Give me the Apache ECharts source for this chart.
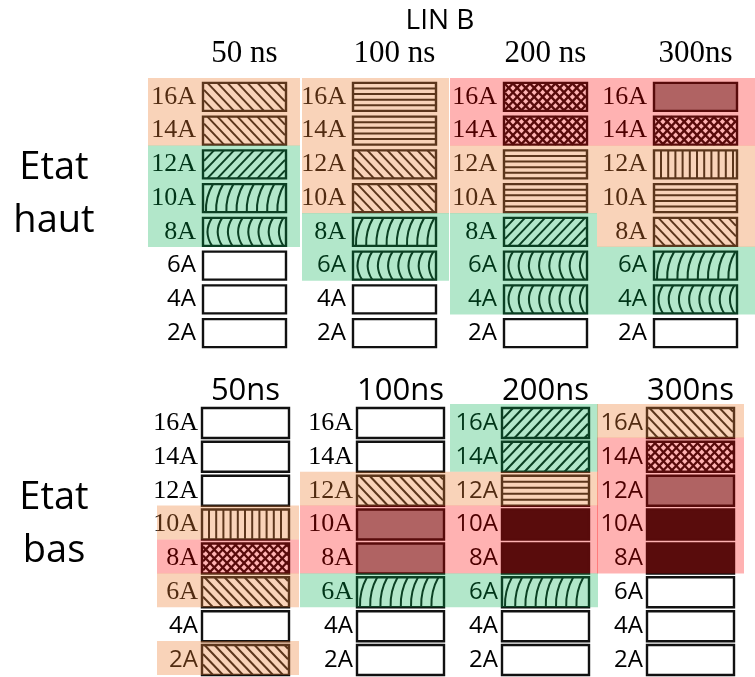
<!DOCTYPE html>
<html><head><meta charset="utf-8">
<script src="https://cdn.jsdelivr.net/npm/echarts@6/dist/echarts.min.js"></script>
<style>html,body{margin:0;padding:0;background:#fff}#c{width:755px;height:677px}</style>
</head><body><div id="c"></div>
<script>
// ---------------- DATA ----------------
const currents = ['16A','14A','12A','10A','8A','6A','4A','2A'];
const topDurations = ['50 ns','100 ns','200 ns','300ns'];
const bottomDurations = ['50ns','100ns','200ns','300ns'];
// fill pattern of each cell, per duration column, rows 16A..2A
const topPatterns = [
  ['bdiag','bdiag','fdiag','wave','arc','none','none','none'],
  ['horiz','horiz','bdiag','bdiag','wave','arc','none','none'],
  ['cross','cross','horiz','horiz','fdiag','arc','arc','none'],
  ['gray','cross','vert','horiz','bdiag','wave','arc','none']
];
const bottomPatterns = [
  ['none','none','none','vert','cross','bdiag','none','bdiag'],
  ['none','none','bdiag','gray','gray','wave','none','none'],
  ['fdiag','fdiag','horiz','black','black','wave','none','none'],
  ['bdiag','cross','gray','black','black','none','none','none']
];
// highlighted zones: [first row, last row, level]
const topZones = [
  [[0,1,'orange'],[2,4,'green']],
  [[0,3,'orange'],[4,5,'green']],
  [[0,1,'red'],[2,3,'orange'],[4,6,'green']],
  [[0,1,'red'],[2,4,'orange'],[5,6,'green']]
];
const bottomZones = [
  [[3,3,'orange'],[4,4,'red'],[5,5,'orange'],[7,7,'orange']],
  [[2,2,'orange'],[3,4,'red'],[5,5,'green']],
  [[0,1,'green'],[2,2,'orange'],[3,4,'red'],[5,5,'green']],
  [[0,0,'orange'],[1,4,'red']]
];

// ---------------- LAYOUT / STYLE ----------------
const zoneColors = {orange:'rgba(237,125,49,0.34)', green:'rgba(0,176,80,0.30)', red:'rgba(255,0,0,0.30)'};
const SERIF = '"Liberation Serif", "DejaVu Serif", serif';
const SANS = '"Open Sans", "Liberation Sans", sans-serif';
const blocks = [
  {name:'top', durations: topDurations, patterns: topPatterns, zones: topZones,
   lefts:[203,353,504,654], width:83, top:80, height:270, boxH:28, labelMargin:7,
   padL:[55,51,54,57], padR:[14,13,10,18], headFont: SERIF, headSize:31, headMargin:11,
   serifRule: (col,row) => row <= 4},
  {name:'bottom', durations: bottomDurations, patterns: bottomPatterns, zones: bottomZones,
   lefts:[202,357,502,647], width:87, top:406, height:272, boxH:30, labelMargin:4,
   padL:[45,57,52,50], padR:[10,6,9,10], headFont: SANS, headSize:31, headMargin:-1,
   serifRule: (col,row) => col <= 1 && row <= 5}
];
const INK = '#111';

function clip(xa,ya,xb,yb,x0,x1){
  let t0=0,t1=1; const dx=xb-xa;
  if (Math.abs(dx)<1e-9){ if(xa<x0||xa>x1) return null; }
  else { let ta=(x0-xa)/dx, tb=(x1-xa)/dx; if(ta>tb){const t=ta;ta=tb;tb=t;} t0=Math.max(t0,ta); t1=Math.min(t1,tb); if(t0>=t1) return null; }
  return {x1:xa+dx*t0, y1:ya+(yb-ya)*t0, x2:xa+dx*t1, y2:ya+(yb-ya)*t1};
}
function diagLines(x0,y0,x1,y1,step,dir,lw,k){
  const h=y1-y0, d=h*k, out=[];
  for(let a=x0-d; a<=x1+d; a+=step){
    const s = dir>0 ? clip(a,y0,a+d,y1,x0,x1) : clip(a+d,y0,a,y1,x0,x1);
    if(s) out.push({type:'line', shape:s, style:{stroke:INK, lineWidth:lw}});
  }
  return out;
}
function patternShapes(code,x0,y0,x1,y1){
  const h=y1-y0, out=[];
  if(code==='bdiag') return diagLines(x0+1,y0,x1-1,y1,10,1,2,0.95);
  if(code==='fdiag') return diagLines(x0+1,y0,x1-1,y1,10,-1,2,0.95);
  if(code==='cross') return diagLines(x0+1,y0,x1-1,y1,8.5,1,2.3,0.95).concat(diagLines(x0+1,y0,x1-1,y1,8.5,-1,2.3,0.95));
  if(code==='horiz'){ for(let k=1;k<=4;k++){ const y=y0+k*h/5; out.push({type:'line',shape:{x1:x0,y1:y,x2:x1,y2:y},style:{stroke:INK,lineWidth:2}});} return out; }
  if(code==='vert'){ for(let x=x0+7;x<x1-2;x+=7.2){ out.push({type:'line',shape:{x1:x,y1:y0,x2:x,y2:y1},style:{stroke:INK,lineWidth:2}});} return out; }
  if(code==='arc'){
    for(let x=x0+3;x+6<=x1;x+=10.2){
      out.push({type:'bezierCurve',shape:{x1:x+6,y1:y0,cpx1:x-3,cpy1:(y0+y1)/2,x2:x+6,y2:y1},style:{stroke:INK,lineWidth:2,fill:null}});
    } return out;
  }
  if(code==='wave'){
    for(let x=x0+2;x+8<=x1;x+=10.2){
      out.push({type:'bezierCurve',shape:{x1:x+8,y1:y0,cpx1:x+3,cpy1:y0+0.3*h,cpx2:x+0.5,cpy2:y0+0.62*h,x2:x+1,y2:y1},style:{stroke:INK,lineWidth:2,fill:null}});
    } return out;
  }
  return out;
}

const grids=[], xAxes=[], yAxes=[], series=[];
blocks.forEach(b=>{
  b.durations.forEach((dur,col)=>{
    const gi = grids.length;
    grids.push({left:b.lefts[col], width:b.width, top:b.top, height:b.height, containLabel:false});
    xAxes.push({gridIndex:gi, type:'category', data:[dur], position:'top',
      axisLine:{show:false}, axisTick:{show:false}, splitLine:{show:false},
      axisLabel:{margin:b.headMargin, fontFamily:b.headFont, fontSize:b.headSize, color:'#000'}});
    yAxes.push({gridIndex:gi, type:'category', data:currents, inverse:true,
      axisLine:{show:false}, axisTick:{show:false}, splitLine:{show:false},
      axisLabel:{margin:b.labelMargin, color:'#000',
        formatter:(v,i)=> (b.serifRule(col,i)?'{s|':'{n|')+v+'}',
        rich:{s:{fontFamily:SERIF,fontSize:26,color:'#000'}, n:{fontFamily:SANS,fontSize:24,color:'#000'}}}});
    const pats = b.patterns[col];
    series.push({type:'custom', xAxisIndex:gi, yAxisIndex:gi, z:2, silent:true,
      data: currents.map((c,i)=>[0,i]),
      renderItem:(params,api)=>{
        const c = api.coord([0, api.value(1)]);
        const bw = api.size([1,1])[0];
        const x0=c[0]-bw/2, x1=c[0]+bw/2, y0=c[1]-b.boxH/2, y1=c[1]+b.boxH/2;
        const code = pats[params.dataIndex];
        const fill = code==='gray' ? '#8e8e8e' : code==='black' ? '#121212' : '#fff';
        const children=[{type:'rect',shape:{x:x0,y:y0,width:bw,height:b.boxH},style:{fill:fill,stroke:null}}];
        patternShapes(code,x0,y0,x1,y1).forEach(s=>children.push(s));
        children.push({type:'rect',shape:{x:x0,y:y0,width:bw,height:b.boxH},style:{fill:null,stroke:INK,lineWidth:2.4}});
        return {type:'group',children:children};
      }});
    const zones = b.zones[col];
    series.push({type:'custom', xAxisIndex:gi, yAxisIndex:gi, z:10, silent:true, clip:false,
      data: zones.map(z=>[0,z[0],z[1]]),
      renderItem:(params,api)=>{
        const a = api.coord([0, api.value(1)]), e = api.coord([0, api.value(2)]);
        const bw = api.size([1,1])[0];
        const x = a[0]-bw/2-b.padL[col], w = bw+b.padL[col]+b.padR[col];
        const y = a[1]-19, hgt = e[1]+15-y;
        return {type:'rect',shape:{x:x,y:y,width:w,height:hgt},style:{fill:zoneColors[zones[params.dataIndex][2]]}};
      }});
  });
});

const chart = echarts.init(document.getElementById('c'), null, {renderer:'canvas'});
chart.setOption({
  animation:false, backgroundColor:'#fff',
  grid:grids, xAxis:xAxes, yAxis:yAxes, series:series,
  graphic:[
    {type:'text', x:440, y:21, style:{text:'LIN B', fontFamily:SANS, fontSize:28, fill:'#000', align:'center', verticalAlign:'middle'}},
    {type:'text', x:54, y:168, style:{text:'Etat', fontFamily:SANS, fontSize:38, fill:'#000', align:'center', verticalAlign:'middle'}},
    {type:'text', x:54, y:221, style:{text:'haut', fontFamily:SANS, fontSize:38, fill:'#000', align:'center', verticalAlign:'middle'}},
    {type:'text', x:54, y:498, style:{text:'Etat', fontFamily:SANS, fontSize:38, fill:'#000', align:'center', verticalAlign:'middle'}},
    {type:'text', x:54, y:551, style:{text:'bas', fontFamily:SANS, fontSize:38, fill:'#000', align:'center', verticalAlign:'middle'}}
  ]
});
</script></body></html>
